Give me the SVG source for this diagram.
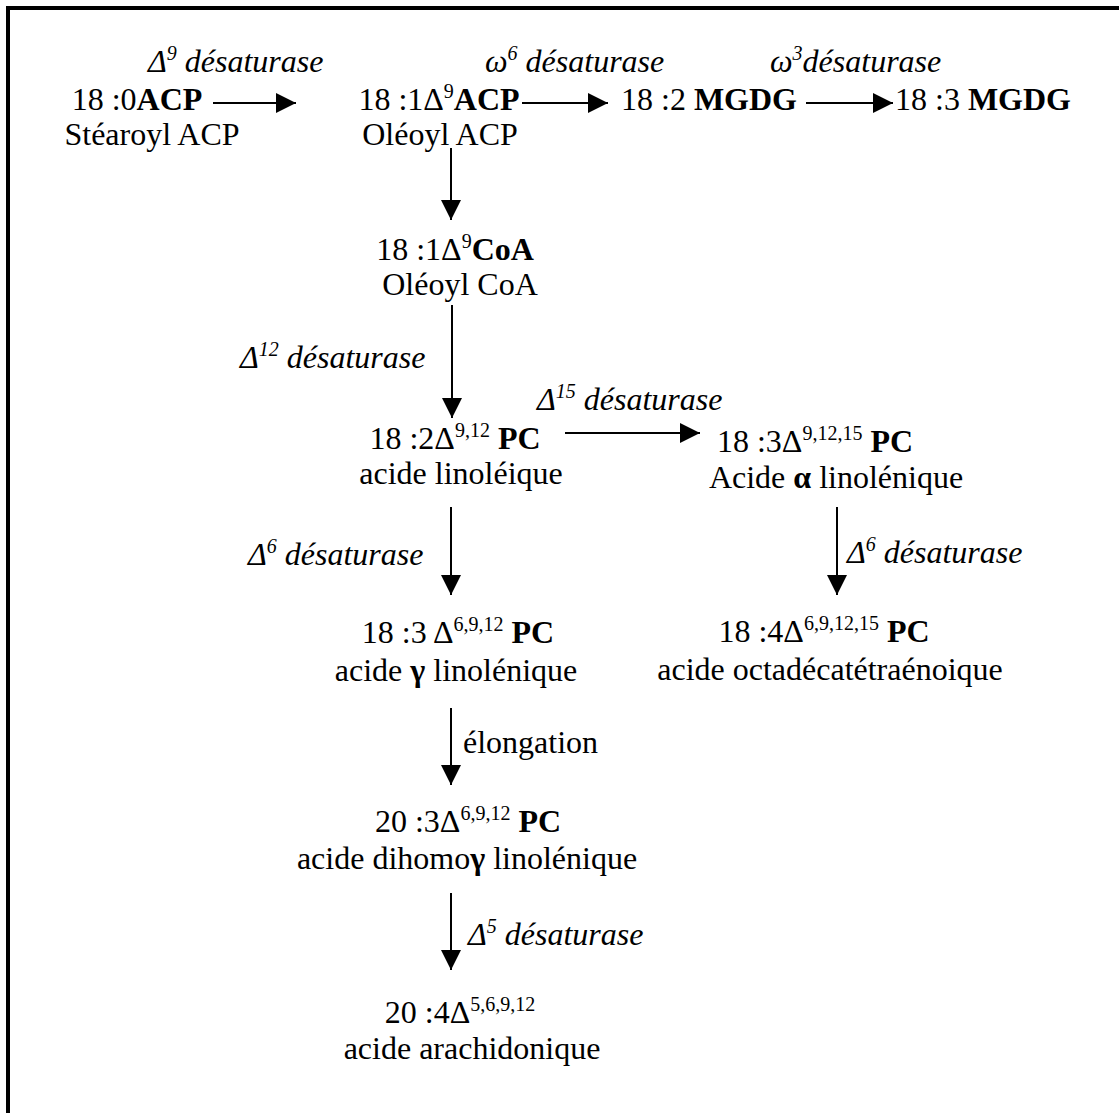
<svg xmlns="http://www.w3.org/2000/svg" width="1119" height="1113" viewBox="0 0 1119 1113">
<style>
text{font-family:"Liberation Serif","Times New Roman",serif;font-size:32px;fill:#000}
.n{text-anchor:middle}
.i{font-style:italic}
.b{font-weight:bold}
.s{font-size:20px}
.c{stroke:#000;stroke-width:2;fill:none;marker-end:url(#ah)}
</style>
<defs>
<marker id="ah" viewBox="0 0 20 20" refX="20" refY="10" markerWidth="20" markerHeight="20" markerUnits="userSpaceOnUse" orient="auto">
<path d="M0,0 L20,10 L0,20 z" fill="#000"/>
</marker>
</defs>
<rect x="8" y="8" width="1130" height="1130" fill="#fff" stroke="#000" stroke-width="4"/>
<g id="connectors">
<line class="c" x1="213" y1="103" x2="296" y2="103"/>
<line class="c" x1="522" y1="103" x2="608" y2="103"/>
<line class="c" x1="806" y1="103" x2="893" y2="103"/>
<line class="c" x1="451" y1="148" x2="451" y2="220"/>
<line class="c" x1="452" y1="305" x2="452" y2="418"/>
<line class="c" x1="565" y1="433" x2="700" y2="433"/>
<line class="c" x1="837" y1="507" x2="837" y2="595"/>
<line class="c" x1="451" y1="507" x2="451" y2="595"/>
<line class="c" x1="451" y1="708" x2="451" y2="785"/>
<line class="c" x1="451" y1="893" x2="451" y2="970"/>
</g>
<g id="labels">
<text class="i" x="148" y="72">Δ<tspan class="s" dy="-12">9</tspan><tspan dy="12"> désaturase</tspan></text>
<text class="i" x="485" y="72">ω<tspan class="s" dy="-12">6</tspan><tspan dy="12"> désaturase</tspan></text>
<text class="i" x="770" y="72">ω<tspan class="s" dy="-12">3</tspan><tspan dy="12">désaturase</tspan></text>
<text class="i" x="240" y="368">Δ<tspan class="s" dy="-12">12</tspan><tspan dy="12"> désaturase</tspan></text>
<text class="i" x="537" y="410">Δ<tspan class="s" dy="-12">15</tspan><tspan dy="12"> désaturase</tspan></text>
<text class="i" x="248" y="565">Δ<tspan class="s" dy="-12">6</tspan><tspan dy="12"> désaturase</tspan></text>
<text class="i" x="847" y="563">Δ<tspan class="s" dy="-12">6</tspan><tspan dy="12"> désaturase</tspan></text>
<text x="463" y="753">élongation</text>
<text class="i" x="468" y="945">Δ<tspan class="s" dy="-12">5</tspan><tspan dy="12"> désaturase</tspan></text>
</g>
<g id="n1">
<text class="n" x="137" y="110">18 :0<tspan class="b">ACP</tspan></text>
<text class="n" x="152" y="145">Stéaroyl ACP</text>
</g>
<g id="n2">
<text class="n" x="439" y="110">18 :1Δ<tspan class="s" dy="-12">9</tspan><tspan class="b" dy="12">ACP</tspan></text>
<text class="n" x="440" y="145">Oléoyl ACP</text>
</g>
<g id="n3">
<text class="n" x="709" y="110">18 :2 <tspan class="b">MGDG</tspan></text>
</g>
<g id="n4">
<text x="895" y="110">18 :3 <tspan class="b">MGDG</tspan></text>
</g>
<g id="n5">
<text class="n" x="455" y="260">18 :1Δ<tspan class="s" dy="-12">9</tspan><tspan class="b" dy="12">CoA</tspan></text>
<text class="n" x="460" y="295">Oléoyl CoA</text>
</g>
<g id="n6">
<text class="n" x="455" y="449">18 :2Δ<tspan class="s" dy="-12">9,12</tspan><tspan dy="12"> </tspan><tspan class="b">PC</tspan></text>
<text class="n" x="461" y="484">acide linoléique</text>
</g>
<g id="n7">
<text class="n" x="815" y="452">18 :3Δ<tspan class="s" dy="-12">9,12,15</tspan><tspan dy="12"> </tspan><tspan class="b">PC</tspan></text>
<text class="n" x="836" y="488">Acide <tspan class="b">α</tspan> linolénique</text>
</g>
<g id="n8">
<text class="n" x="458" y="643">18 :3 Δ<tspan class="s" dy="-12">6,9,12</tspan><tspan dy="12"> </tspan><tspan class="b">PC</tspan></text>
<text class="n" x="456" y="681">acide <tspan class="b">γ</tspan> linolénique</text>
</g>
<g id="n9">
<text class="n" x="824" y="642">18 :4Δ<tspan class="s" dy="-12">6,9,12,15</tspan><tspan dy="12"> </tspan><tspan class="b">PC</tspan></text>
<text class="n" x="830" y="680">acide octadécatétraénoique</text>
</g>
<g id="n10">
<text class="n" x="468" y="832">20 :3Δ<tspan class="s" dy="-12">6,9,12</tspan><tspan dy="12"> </tspan><tspan class="b">PC</tspan></text>
<text class="n" x="467" y="869">acide dihomo<tspan class="b">γ</tspan> linolénique</text>
</g>
<g id="n11">
<text class="n" x="460" y="1023">20 :4Δ<tspan class="s" dy="-12">5,6,9,12</tspan></text>
<text class="n" x="472" y="1059">acide arachidonique</text>
</g>
</svg>
